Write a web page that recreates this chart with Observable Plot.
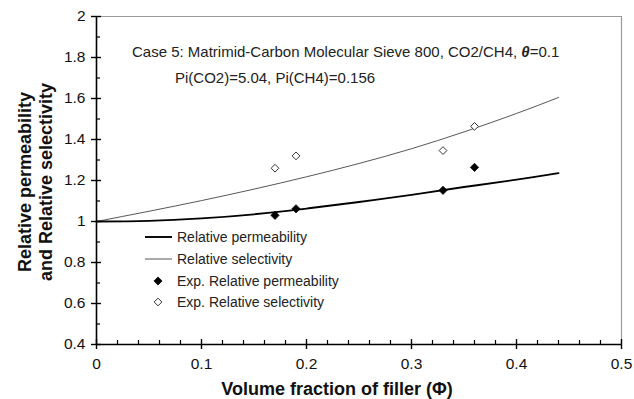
<!DOCTYPE html>
<html>
<head>
<meta charset="utf-8">
<script src="https://cdn.jsdelivr.net/npm/d3@7"></script>
<script src="https://cdn.jsdelivr.net/npm/@observablehq/plot@0.6"></script>
<style>
html,body{margin:0;padding:0;background:#fff;}
#chart{width:634px;height:399px;}
svg{font-family:"Liberation Sans",Arial,sans-serif;}
</style>
</head>
<body>
<div id="chart"></div>
<script>
// Model curves
const phiCurve = [0, 0.05, 0.1, 0.15, 0.2, 0.25, 0.3, 0.35, 0.4, 0.44];
const permCurve = [1, 1.003, 1.015, 1.035, 1.063, 1.095, 1.13, 1.168, 1.204, 1.236];
const selCurve = [1, 1.05, 1.102, 1.158, 1.218, 1.283, 1.355, 1.437, 1.527, 1.605];
// Experimental points
const phiExp = [0.17, 0.19, 0.33, 0.36];
const permExp = [1.03, 1.062, 1.152, 1.264];
const selExp = [1.26, 1.32, 1.346, 1.464];
// Ticks
const xTicks = [0, 0.1, 0.2, 0.3, 0.4, 0.5];
const xTickLabels = ["0", "0.1", "0.2", "0.3", "0.4", "0.5"];
const xMinor = [0.02,0.04,0.06,0.08,0.12,0.14,0.16,0.18,0.22,0.24,0.26,0.28,0.32,0.34,0.36,0.38,0.42,0.44,0.46,0.48];
const yTicks = [0.4, 0.6, 0.8, 1, 1.2, 1.4, 1.6, 1.8, 2];
const yTickLabels = ["0.4", "0.6", "0.8", "1", "1.2", "1.4", "1.6", "1.8", "2"];
const yMinor = [0.5, 0.7, 0.9, 1.1, 1.3, 1.5, 1.7, 1.9];
const legendLabels = ["Relative permeability", "Relative selectivity", "Exp. Relative permeability", "Exp. Relative selectivity"];

const curveData = phiCurve.map((p, i) => ({phi: p, perm: permCurve[i], sel: selCurve[i]}));
const expData = phiExp.map((p, i) => ({phi: p, perm: permExp[i], sel: selExp[i]}));

const W = 634, H = 399, mL = 96, mR = 13, mT = 16, mB = 55;
const pw = W - mL - mR, ph = H - mT - mB;

const chart = Plot.plot({
  width: W, height: H,
  marginLeft: mL, marginRight: mR, marginTop: mT, marginBottom: mB,
  style: {fontFamily: "Liberation Sans, Arial, sans-serif", background: "#fff"},
  x: {domain: [0, 0.5]},
  y: {domain: [0.4, 2]},
  marks: [
    // frame top/right
    Plot.ruleY([2], {stroke: "#9a9a9a", strokeWidth: 1.2}),
    Plot.ruleX([0.5], {stroke: "#9a9a9a", strokeWidth: 1.2}),
    // minor ticks (inside)
    Plot.ruleX(xMinor, {stroke: "#000", strokeWidth: 1.2, insetTop: ph - 4}),
    Plot.ruleY(yMinor, {stroke: "#000", strokeWidth: 1.2, insetRight: pw - 4}),
    // major ticks (crossing)
    Plot.ruleX(xTicks, {stroke: "#000", strokeWidth: 1.4, insetTop: ph - 5, insetBottom: -5}),
    Plot.ruleY(yTicks, {stroke: "#000", strokeWidth: 1.4, insetRight: pw - 5, insetLeft: -5}),
    // axis lines
    Plot.ruleY([0.4], {stroke: "#000", strokeWidth: 1.6}),
    Plot.ruleX([0], {stroke: "#000", strokeWidth: 1.6}),
    Plot.axisX({ticks: xTicks, tickSize: 0, tickPadding: 13, tickFormat: (d, i) => xTickLabels[i], fontSize: 15.5, label: null, fill: "#111"}),
    Plot.axisY({ticks: yTicks, tickSize: 0, tickPadding: 11, tickFormat: (d, i) => yTickLabels[i], fontSize: 15.5, label: null, fill: "#111"}),
    // curves
    Plot.line(curveData, {x: "phi", y: "sel", curve: "natural", stroke: "#444", strokeWidth: 0.9}),
    Plot.line(curveData, {x: "phi", y: "perm", curve: "natural", stroke: "#000", strokeWidth: 1.9}),
    // experimental points
    Plot.dot(expData, {x: "phi", y: "perm", symbol: "diamond2", r: 3.7, fill: "#000", stroke: "#000", strokeWidth: 0.8}),
    Plot.dot(expData, {x: "phi", y: "sel", symbol: "diamond2", r: 3.5, fill: "#fff", stroke: "#333", strokeWidth: 1})
  ]
});

document.getElementById("chart").appendChild(chart);

const svg = d3.select(chart);
const g = svg.append("g").attr("fill", "#222").attr("text-anchor", "start").attr("font-family", "Liberation Sans, Arial, sans-serif");

// Annotation
const ann = g.append("text").attr("x", mL + 36).attr("y", mT + 41).attr("font-size", 15);
ann.append("tspan").text("Case 5: Matrimid-Carbon Molecular Sieve 800, CO2/CH4, ");
ann.append("tspan").attr("font-weight", "bold").attr("font-style", "italic").text("θ");
ann.append("tspan").text("=0.1");
g.append("text").attr("x", mL + 79).attr("y", mT + 67).attr("font-size", 15).text("Pi(CO2)=5.04, Pi(CH4)=0.156");

// Legend
const lx = mL + 49, rowY = [mT + 221, mT + 243, mT + 265, mT + 286];
g.append("line").attr("x1", lx).attr("x2", lx + 27).attr("y1", rowY[0]).attr("y2", rowY[0]).attr("stroke", "#000").attr("stroke-width", 1.9);
g.append("line").attr("x1", lx).attr("x2", lx + 27).attr("y1", rowY[1]).attr("y2", rowY[1]).attr("stroke", "#444").attr("stroke-width", 0.9);
g.append("path").attr("d", d3.symbol(d3.symbolDiamond2, 42)()).attr("transform", `translate(${lx + 13},${rowY[2]})`).attr("fill", "#000").attr("stroke", "#000").attr("stroke-width", 0.8);
g.append("path").attr("d", d3.symbol(d3.symbolDiamond2, 38)()).attr("transform", `translate(${lx + 13},${rowY[3]})`).attr("fill", "#fff").attr("stroke", "#333").attr("stroke-width", 1);
legendLabels.forEach((t, i) => {
  g.append("text").attr("x", lx + 32).attr("y", rowY[i] + 5).attr("font-size", 14).text(t);
});

// Axis titles
const titles = svg.append("g").attr("font-family", "Liberation Sans, Arial, sans-serif").attr("font-weight", "bold").attr("font-size", 18).attr("fill", "#111");
titles.append("text").attr("text-anchor", "middle").attr("x", 337).attr("y", H - 4).text("Volume fraction of filler (Φ)");
titles.append("text").attr("text-anchor", "middle").attr("transform", `translate(31,${mT + 166}) rotate(-90)`).text("Relative permeability");
titles.append("text").attr("text-anchor", "middle").attr("transform", `translate(52,${mT + 166}) rotate(-90)`).text("and Relative selectivity");
</script>
</body>
</html>
